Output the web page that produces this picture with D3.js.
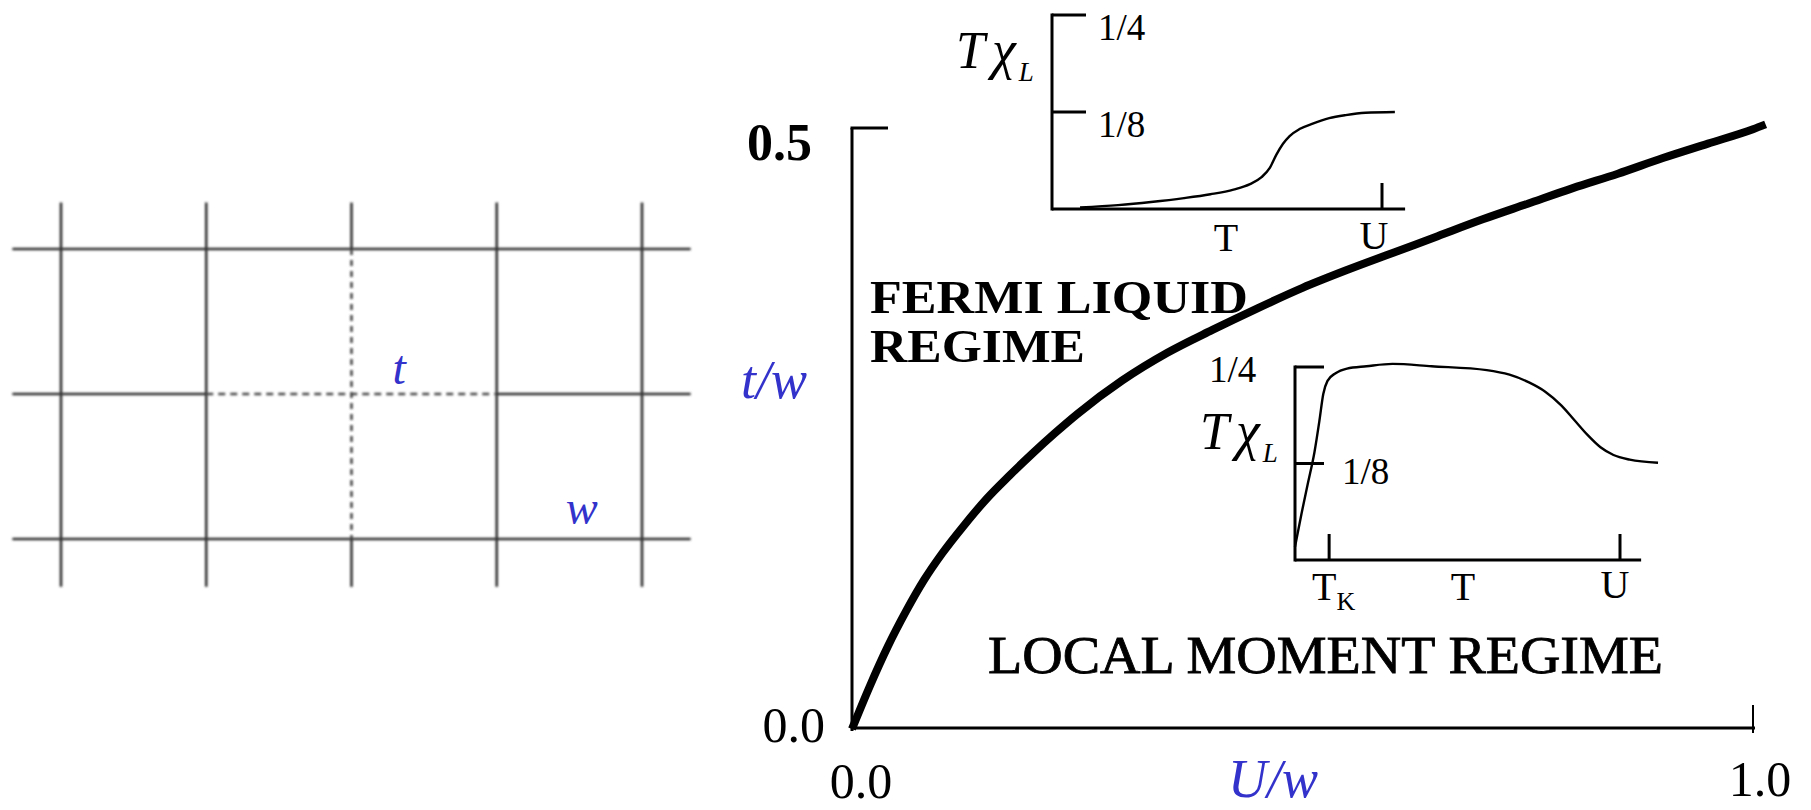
<!DOCTYPE html>
<html>
<head>
<meta charset="utf-8">
<script src="https://cdn.jsdelivr.net/npm/d3@7"></script>
<style>
  html, body { margin: 0; padding: 0; background: #fff; }
  svg { display: block; }
  text { font-family: "Liberation Serif", "Times New Roman", serif; }
</style>
</head>
<body>
<script>
// ---- lattice (left panel) ----
const latticeCols = [0, 1, 2, 3, 4];
const latticeRows = [0, 1, 2];
// the four bonds of the centre site are the weak (t) bonds, drawn dashed
const weakRow = { row: 1, from: 1, to: 3 };
const weakCol = { col: 2, from: 0, to: 2 };
const latticeOverhang = 0.335;

// ---- phase boundary t/w versus U/w ----
const boundaryU = [0, 0.02, 0.04, 0.06, 0.08, 0.10, 0.125, 0.15, 0.175, 0.20, 0.225, 0.25,
                   0.30, 0.35, 0.40, 0.45, 0.50, 0.55, 0.60, 0.65, 0.70, 0.75, 0.80, 0.85,
                   0.90, 0.95, 1.00, 1.014];
const boundaryT = [0, 0.036, 0.069, 0.098, 0.124, 0.146, 0.170, 0.192, 0.211, 0.229, 0.246, 0.262,
                   0.290, 0.313, 0.332, 0.350, 0.367, 0.382, 0.396, 0.410, 0.424, 0.437, 0.450, 0.462,
                   0.475, 0.487, 0.499, 0.503];
const mainXTicks = ["0.0", "1.0"];
const mainYTicks = ["0.0", "0.5"];

// ---- inset: Fermi liquid side, T*chi_L versus T (T in units of U) ----
const fermiT   = [0.085, 0.20, 0.30, 0.40, 0.48, 0.55, 0.60, 0.635, 0.66, 0.68, 0.70, 0.72,
                  0.75, 0.79, 0.84, 0.89, 0.95, 1.039];
const fermiChi = [0.002, 0.005, 0.009, 0.014, 0.019, 0.025, 0.032, 0.041, 0.053, 0.070, 0.084, 0.094,
                  0.103, 0.110, 0.117, 0.121, 0.124, 0.125];

// ---- inset: local moment side ----
const momentT   = [0, 0.02, 0.04, 0.06, 0.075, 0.087, 0.10, 0.125, 0.16, 0.22, 0.30, 0.42,
                   0.59, 0.66, 0.72, 0.77, 0.82, 0.86, 0.90, 0.94, 0.98, 1.03, 1.117];
const momentChi = [0.017, 0.060, 0.100, 0.140, 0.180, 0.215, 0.232, 0.242, 0.248, 0.251, 0.254, 0.251,
                   0.246, 0.240, 0.230, 0.218, 0.200, 0.181, 0.162, 0.146, 0.136, 0.130, 0.126];
const kondoT = 0.105;
const insetYTicks = [{ v: 0.25, label: "1/4" }, { v: 0.125, label: "1/8" }];

const W = 1811, H = 810;
const BLUE = "#3333cc";
const svg = d3.select("body").append("svg").attr("width", W).attr("height", H);
svg.append("rect").attr("width", W).attr("height", H).attr("fill", "#fff");

// ================= lattice =================
const defs = svg.append("defs");
defs.append("filter").attr("id", "soft").attr("x", "-5%").attr("y", "-5%")
  .attr("width", "110%").attr("height", "110%")
  .append("feGaussianBlur").attr("stdDeviation", 0.8);

const lx = d3.scaleLinear().domain([0, 4]).range([61, 642]);
const ly = d3.scaleLinear().domain([0, 2]).range([249, 539]);
const xMin = d3.min(latticeCols) - latticeOverhang, xMax = d3.max(latticeCols) + latticeOverhang;
const yMin = d3.min(latticeRows) - 0.32, yMax = d3.max(latticeRows) + 0.33;

const solid = [], dashed = [];
latticeRows.forEach(r => {
  if (r === weakRow.row) {
    solid.push([lx(xMin), ly(r), lx(weakRow.from), ly(r)]);
    solid.push([lx(weakRow.to), ly(r), lx(xMax), ly(r)]);
    dashed.push({ seg: [lx(weakRow.from), ly(r), lx(weakRow.to), ly(r)], dash: "7 5" });
  } else solid.push([lx(xMin), ly(r), lx(xMax), ly(r)]);
});
latticeCols.forEach(c => {
  if (c === weakCol.col) {
    solid.push([lx(c), ly(yMin), lx(c), ly(weakCol.from)]);
    solid.push([lx(c), ly(weakCol.to), lx(c), ly(yMax)]);
    dashed.push({ seg: [lx(c), ly(weakCol.from), lx(c), ly(weakCol.to)], dash: "6 5" });
  } else solid.push([lx(c), ly(yMin), lx(c), ly(yMax)]);
});

const lat = svg.append("g").attr("filter", "url(#soft)");
lat.selectAll("line.bond").data(solid).join("line").attr("class", "bond")
  .attr("x1", d => d[0]).attr("y1", d => d[1]).attr("x2", d => d[2]).attr("y2", d => d[3])
  .attr("stroke", "#333").attr("stroke-width", 2.6);
lat.selectAll("line.weak").data(dashed).join("line").attr("class", "weak")
  .attr("x1", d => d.seg[0]).attr("y1", d => d.seg[1]).attr("x2", d => d.seg[2]).attr("y2", d => d.seg[3])
  .attr("stroke", "#4a4a4a").attr("stroke-width", 2.6).attr("stroke-dasharray", d => d.dash);

svg.append("text").attr("x", lx(2) + 41).attr("y", ly(1) - 10)
  .attr("font-style", "italic").attr("font-size", 48).attr("fill", BLUE).text("t");
svg.append("text").attr("x", lx(3) + 69).attr("y", ly(2) - 15)
  .attr("font-style", "italic").attr("font-size", 48).attr("fill", BLUE).text("w");

// ================= main phase diagram =================
const xMain = d3.scaleLinear().domain([0, 1]).range([852, 1753]);
const yMain = d3.scaleLinear().domain([0, 0.5]).range([729, 128]);
const main = svg.append("g");

// axes drawn as an open frame with end ticks
main.append("line").attr("x1", xMain(0)).attr("x2", xMain(0))
  .attr("y1", yMain(0.5)).attr("y2", yMain(0) + 2).attr("stroke", "#000").attr("stroke-width", 3);
main.append("line").attr("x1", xMain(0) - 1.5).attr("x2", xMain(0) + 36)
  .attr("y1", yMain(0.5)).attr("y2", yMain(0.5)).attr("stroke", "#000").attr("stroke-width", 3);
main.append("line").attr("x1", xMain(0)).attr("x2", xMain(1) + 2)
  .attr("y1", yMain(0) - 1).attr("y2", yMain(0) - 1).attr("stroke", "#000").attr("stroke-width", 3);
main.append("line").attr("x1", xMain(1)).attr("x2", xMain(1))
  .attr("y1", yMain(0) - 24).attr("y2", yMain(0) + 4).attr("stroke", "#000").attr("stroke-width", 2);

// tick labels
main.append("text").attr("x", xMain(0) - 40).attr("y", yMain(0.5) + 32).attr("text-anchor", "end")
  .attr("font-size", 52).attr("font-weight", "bold").text(mainYTicks[1]);
main.append("text").attr("x", xMain(0) - 27).attr("y", yMain(0) + 13).attr("text-anchor", "end")
  .attr("font-size", 50).text(mainYTicks[0]);
main.append("text").attr("x", xMain(0) + 9).attr("y", 798).attr("text-anchor", "middle")
  .attr("font-size", 50).text(mainXTicks[0]);
main.append("text").attr("x", xMain(1) + 7).attr("y", 796).attr("text-anchor", "middle")
  .attr("font-size", 50).text(mainXTicks[1]);

// axis titles
main.append("text").attr("x", 741).attr("y", 398).attr("font-style", "italic")
  .attr("font-size", 54).attr("fill", BLUE).text("t/w");
main.append("text").attr("x", 1228).attr("y", 797).attr("font-style", "italic")
  .attr("font-size", 54).attr("fill", BLUE).text("U/w");

// boundary between the two regimes
const boundary = boundaryU.map((u, i) => [u, boundaryT[i]]);
main.append("path").datum(boundary)
  .attr("d", d3.line().x(d => xMain(d[0])).y(d => yMain(d[1])).curve(d3.curveMonotoneX))
  .attr("fill", "none").attr("stroke", "#000").attr("stroke-width", 8);

// regime labels
main.append("text").attr("x", 870).attr("y", 313).attr("font-size", 47).attr("font-weight", "bold")
  .attr("textLength", 378).attr("lengthAdjust", "spacingAndGlyphs").text("FERMI LIQUID");
main.append("text").attr("x", 870).attr("y", 362).attr("font-size", 47).attr("font-weight", "bold")
  .attr("textLength", 215).attr("lengthAdjust", "spacingAndGlyphs").text("REGIME");
main.append("text").attr("x", 988).attr("y", 673).attr("font-size", 52)
  .attr("stroke", "#000").attr("stroke-width", 0.8)
  .attr("textLength", 675).attr("lengthAdjust", "spacingAndGlyphs").text("LOCAL MOMENT REGIME");

// ================= insets =================
function inset(cfg) {
  const g = svg.append("g");
  const x = d3.scaleLinear().domain([0, 1]).range(cfg.xr);
  const y = d3.scaleLinear().domain([0, 0.25]).range(cfg.yr);
  // frame
  g.append("line").attr("x1", x(0)).attr("x2", x(0)).attr("y1", y(0.25) - 1.5).attr("y2", y(0) + 1.5)
    .attr("stroke", "#000").attr("stroke-width", 3);
  g.append("line").attr("x1", x(0)).attr("x2", x(cfg.xEnd)).attr("y1", y(0)).attr("y2", y(0))
    .attr("stroke", "#000").attr("stroke-width", 3);
  insetYTicks.forEach(t => {
    g.append("line").attr("x1", x(0)).attr("x2", x(0) + cfg.tickLen).attr("y1", y(t.v)).attr("y2", y(t.v))
      .attr("stroke", "#000").attr("stroke-width", 3);
  });
  cfg.xTicks.forEach(v => {
    g.append("line").attr("x1", x(v)).attr("x2", x(v)).attr("y1", y(0) - 26).attr("y2", y(0))
      .attr("stroke", "#000").attr("stroke-width", 3);
  });
  // curve
  const pts = cfg.tx.map((v, i) => [v, cfg.chi[i]]);
  g.append("path").datum(pts)
    .attr("d", d3.line().x(d => x(d[0])).y(d => y(d[1])).curve(d3.curveMonotoneX))
    .attr("fill", "none").attr("stroke", "#000").attr("stroke-width", 2.4);
  return { g, x, y };
}

function chiLabel(g, x0, yBase) {
  const t = g.append("text").attr("x", x0).attr("y", yBase).attr("font-style", "italic").attr("font-size", 52);
  t.append("tspan").text("T");
  t.append("tspan").attr("dx", 7).attr("font-size", 54).text("χ");
  t.append("tspan").attr("dx", 3).attr("dy", 13).attr("font-size", 27).text("L");
}

// Fermi liquid inset
const ins1 = inset({ xr: [1052, 1382], yr: [209, 15], xEnd: 1.07, tickLen: 34,
                     xTicks: [1], tx: fermiT, chi: fermiChi });
insetYTicks.forEach(t => {
  ins1.g.append("text").attr("x", ins1.x(0) + 46).attr("y", ins1.y(t.v) + 25)
    .attr("font-size", 37).text(t.label);
});
chiLabel(ins1.g, 956, 68);
ins1.g.append("text").attr("x", 1226).attr("y", 251).attr("text-anchor", "middle").attr("font-size", 40).text("T");
ins1.g.append("text").attr("x", ins1.x(1) - 8).attr("y", 249).attr("text-anchor", "middle").attr("font-size", 40).text("U");

// local moment inset
const ins2 = inset({ xr: [1295, 1620], yr: [560, 367], xEnd: 1.065, tickLen: 29,
                     xTicks: [kondoT, 1], tx: momentT, chi: momentChi });
ins2.g.append("text").attr("x", ins2.x(0) - 86).attr("y", ins2.y(0.25) + 15)
  .attr("font-size", 37).text(insetYTicks[0].label);
ins2.g.append("text").attr("x", ins2.x(0) + 47).attr("y", ins2.y(0.125) + 20)
  .attr("font-size", 37).text(insetYTicks[1].label);
chiLabel(ins2.g, 1200, 449);
const tk = ins2.g.append("text").attr("x", 1312).attr("y", 600).attr("font-size", 40);
tk.append("tspan").text("T");
tk.append("tspan").attr("dy", 10).attr("font-size", 26).text("K");
ins2.g.append("text").attr("x", 1463).attr("y", 600).attr("text-anchor", "middle").attr("font-size", 40).text("T");
ins2.g.append("text").attr("x", ins2.x(1) - 5).attr("y", 598).attr("text-anchor", "middle").attr("font-size", 40).text("U");
</script>
</body>
</html>
